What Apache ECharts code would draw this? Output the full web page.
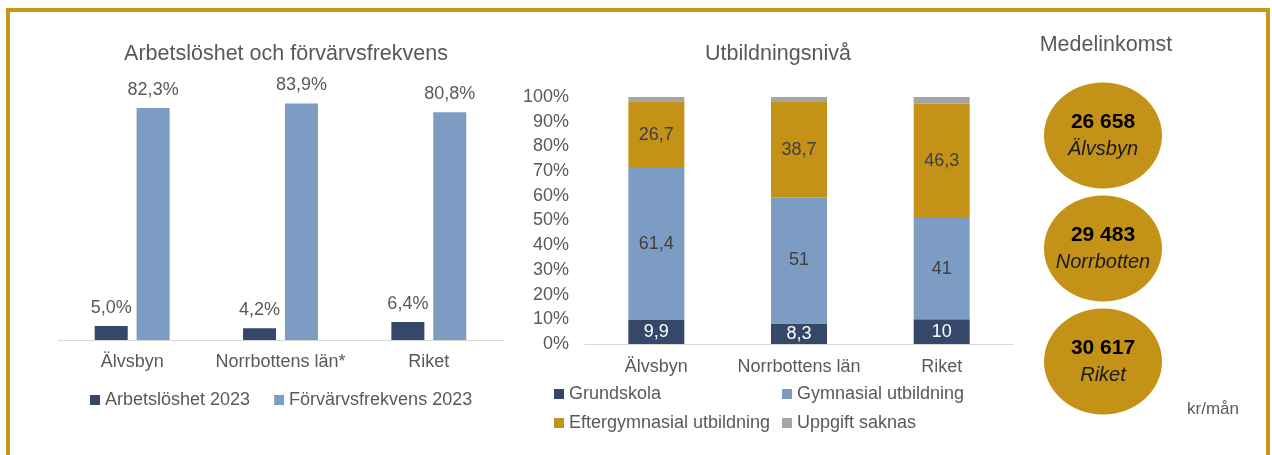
<!DOCTYPE html>
<html>
<head>
<meta charset="utf-8">
<script src="https://cdn.jsdelivr.net/npm/echarts@6/dist/echarts.min.js"></script>
<style>
    html, body { margin: 0; padding: 0; background: #fff; }
    #chart { position: absolute; left: 0; top: 0; width: 1272px; height: 455px; }
    #frame {
        position: absolute; left: 6px; top: 8px; width: 1256px; height: 460px;
        border: 4px solid #C8961C; border-bottom: none; pointer-events: none;
    }
</style>
</head>
<body>
<div id="chart"></div>
<div id="frame"></div>
<script>
// left chart: unemployment / employment rate
const regions = ['Älvsbyn', 'Norrbottens län*', 'Riket'];
const unemployment = [5.0, 4.2, 6.4];
const employment = [82.3, 83.9, 80.8];

// middle chart: education level (%)
const eduRegions = ['Älvsbyn', 'Norrbottens län', 'Riket'];
const grundskola = [9.9, 8.3, 10];
const gymnasial = [61.4, 51, 41];
const eftergymnasial = [26.7, 38.7, 46.3];
const saknas = [2.0, 2.0, 2.7];

// right: mean income kr/mån
const incomeNames = ['Älvsbyn', 'Norrbotten', 'Riket'];
const income = [26658, 29483, 30617];

const FONT = '"Liberation Sans", Arial, sans-serif';
const GREY = '#595959';
const NAVY = '#36486A';
const BLUE = '#7C9CC3';
const GOLD = '#C59218';
const LIGHTGREY = '#A5A5A5';

const pct = v => v.toFixed(1).replace('.', ',') + '%';
const comma = v => String(v).replace('.', ',');
const thousands = v => String(v).replace(/\B(?=(\d{3})+(?!\d))/g, ' ');

const chart = echarts.init(document.getElementById('chart'));

const titleStyle = { fontFamily: FONT, fontSize: 21.5, fontWeight: 'normal', color: GREY };
const legendText = { fontFamily: FONT, fontSize: 18, color: GREY };
const eduLabel = (color) => ({
    show: true, position: 'inside', fontFamily: FONT, fontSize: 18, color: color,
    formatter: p => comma(p.value)
});

chart.setOption({
    animation: false,
    textStyle: { fontFamily: FONT },
    title: [
        { text: 'Arbetslöshet och förvärvsfrekvens', left: 281, top: 38, textAlign: 'center', textStyle: titleStyle },
        { text: 'Utbildningsnivå', left: 773, top: 38, textAlign: 'center', textStyle: titleStyle },
        { text: 'Medelinkomst', left: 1101, top: 29, textAlign: 'center', textStyle: titleStyle },
        { text: 'kr/mån', left: 1208, top: 396, textAlign: 'center',
          textStyle: { fontFamily: FONT, fontSize: 17, fontWeight: 'normal', color: GREY } }
    ],
    legend: [
        {
            data: ['Arbetslöshet 2023', 'Förvärvsfrekvens 2023'],
            left: 85, top: 386, itemWidth: 10, itemHeight: 10, itemGap: 24,
            icon: 'rect', textStyle: legendText, selectedMode: false
        },
        {
            data: ['Grundskola', 'Eftergymnasial utbildning'],
            orient: 'vertical', left: 549, top: 380, itemWidth: 10, itemHeight: 10, itemGap: 11,
            icon: 'rect', textStyle: legendText, selectedMode: false
        },
        {
            data: ['Gymnasial utbildning', 'Uppgift saknas'],
            orient: 'vertical', left: 777, top: 380, itemWidth: 10, itemHeight: 10, itemGap: 11,
            icon: 'rect', textStyle: legendText, selectedMode: false
        }
    ],
    grid: [
        { left: 58, width: 445, top: 58, height: 282 },
        { left: 585, width: 428, top: 97, height: 247 },
        { left: 1044, width: 118, top: 79, height: 339 }
    ],
    xAxis: [
        {
            gridIndex: 0, type: 'category', data: regions,
            axisLine: { lineStyle: { color: '#D9D9D9' } }, axisTick: { show: false },
            axisLabel: { fontFamily: FONT, fontSize: 18, color: GREY, margin: 13, interval: 0 }
        },
        {
            gridIndex: 1, type: 'category', data: eduRegions,
            axisLine: { lineStyle: { color: '#D9D9D9' } }, axisTick: { show: false },
            axisLabel: { fontFamily: FONT, fontSize: 18, color: GREY, margin: 14, interval: 0 }
        },
        { gridIndex: 2, type: 'value', min: -1, max: 1, show: false }
    ],
    yAxis: [
        { gridIndex: 0, type: 'value', min: 0, max: 100, show: false },
        {
            gridIndex: 1, type: 'value', min: 0, max: 100, interval: 10,
            axisLine: { show: false }, axisTick: { show: false }, splitLine: { show: false },
            axisLabel: { fontFamily: FONT, fontSize: 18, color: GREY, margin: 16, formatter: '{value}%' }
        },
        { gridIndex: 2, type: 'category', data: incomeNames, inverse: true, show: false }
    ],
    series: [
        {
            name: 'Arbetslöshet 2023', type: 'bar', xAxisIndex: 0, yAxisIndex: 0,
            data: unemployment, barWidth: 33, barGap: '27%', itemStyle: { color: NAVY },
            label: { show: true, position: 'top', distance: 9, fontFamily: FONT, fontSize: 18, color: GREY,
                     formatter: p => pct(p.value) }
        },
        {
            name: 'Förvärvsfrekvens 2023', type: 'bar', xAxisIndex: 0, yAxisIndex: 0,
            data: employment, barWidth: 33, barGap: '27%', itemStyle: { color: BLUE },
            label: { show: true, position: 'top', distance: 9, fontFamily: FONT, fontSize: 18, color: GREY,
                     formatter: p => pct(p.value) }
        },
        {
            name: 'Grundskola', type: 'bar', stack: 'edu', xAxisIndex: 1, yAxisIndex: 1,
            data: grundskola, barWidth: 56, itemStyle: { color: NAVY }, label: eduLabel('#FFFFFF')
        },
        {
            name: 'Gymnasial utbildning', type: 'bar', stack: 'edu', xAxisIndex: 1, yAxisIndex: 1,
            data: gymnasial, barWidth: 56, itemStyle: { color: BLUE }, label: eduLabel('#404040')
        },
        {
            name: 'Eftergymnasial utbildning', type: 'bar', stack: 'edu', xAxisIndex: 1, yAxisIndex: 1,
            data: eftergymnasial, barWidth: 56, itemStyle: { color: GOLD }, label: eduLabel('#404040')
        },
        {
            name: 'Uppgift saknas', type: 'bar', stack: 'edu', xAxisIndex: 1, yAxisIndex: 1,
            data: saknas, barWidth: 56, itemStyle: { color: LIGHTGREY }
        },
        {
            name: 'Medelinkomst', type: 'scatter', xAxisIndex: 2, yAxisIndex: 2,
            data: income.map((v, i) => [0, incomeNames[i], v]),
            symbol: 'circle', symbolSize: [118, 106],
            itemStyle: { color: GOLD, opacity: 1 },
            label: {
                show: true, position: 'inside',
                formatter: p => '{v|' + thousands(p.value[2]) + '}\n{n|' + p.value[1] + '}',
                rich: {
                    v: { fontFamily: FONT, fontSize: 21, fontWeight: 'bold', color: '#000', lineHeight: 27 },
                    n: { fontFamily: FONT, fontSize: 20, fontStyle: 'italic', color: '#1A1A1A', lineHeight: 27 }
                }
            }
        }
    ]
});
</script>
</body>
</html>
